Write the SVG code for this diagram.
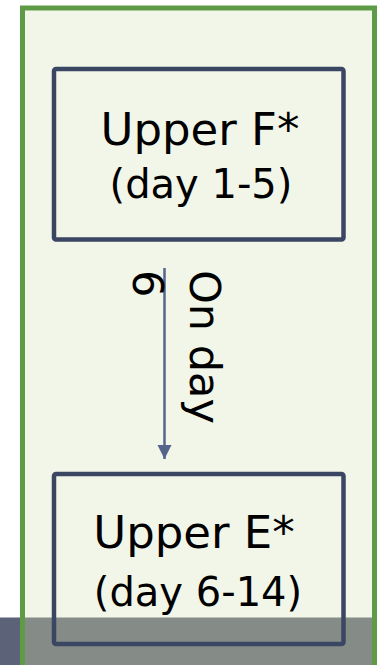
<svg xmlns="http://www.w3.org/2000/svg" width="377" height="665" viewBox="0 0 377 665">
  <defs>
    <style>
      .box { fill: none; stroke: #3B4662; stroke-width: 4.5; }
      .title { font-family: "DejaVu Sans", "Liberation Sans", sans-serif; font-size: 45px; fill: #000; text-anchor: middle; }
      .sub { font-family: "DejaVu Sans", "Liberation Sans", sans-serif; font-size: 40px; fill: #000; text-anchor: middle; }
      .lbl { font-family: "DejaVu Sans", "Liberation Sans", sans-serif; font-size: 43px; fill: #000; }
      .conn { stroke: #55648C; stroke-width: 2.5; fill: none; }
    </style>
    <marker id="arrow" viewBox="0 0 15 16" refX="15" refY="7.5" markerWidth="16" markerHeight="15" markerUnits="userSpaceOnUse" orient="auto">
      <path d="M0,0 L15,7.5 L0,15 Z" fill="#55648C"/>
    </marker>
  </defs>
  <rect x="0" y="0" width="377" height="665" fill="#FFFFFF"/>
  <g id="container">
    <rect x="22.5" y="8" width="352" height="700" fill="#F2F6E9"/>
    <rect x="0" y="617.5" width="22" height="48" fill="#5C6379"/>
    <rect x="22.5" y="617.5" width="352" height="48" fill="#858B87"/>
    <rect x="22.5" y="8" width="352" height="700" fill="none" stroke="#5F9B47" stroke-width="5"/>
  </g>
  <g id="upperF">
    <rect class="box" x="54" y="69" width="289.5" height="170.5" rx="2"/>
    <text class="title" x="200" y="145">Upper F*</text>
    <text class="sub" x="201" y="198">(day 1-5)</text>
  </g>
  <g id="upperE">
    <rect class="box" x="54" y="474" width="289.5" height="170" rx="2"/>
    <text class="title" x="194" y="548">Upper E*</text>
    <text class="sub" x="198" y="606">(day 6-14)</text>
  </g>
  <g id="connectors">
    <line class="conn" x1="164.5" y1="268" x2="164.5" y2="459" marker-end="url(#arrow)"/>
    <text class="lbl" transform="translate(190,270) rotate(90)">
      <tspan x="0" y="0">On day</tspan>
      <tspan x="0" y="57">6</tspan>
    </text>
  </g>
</svg>
